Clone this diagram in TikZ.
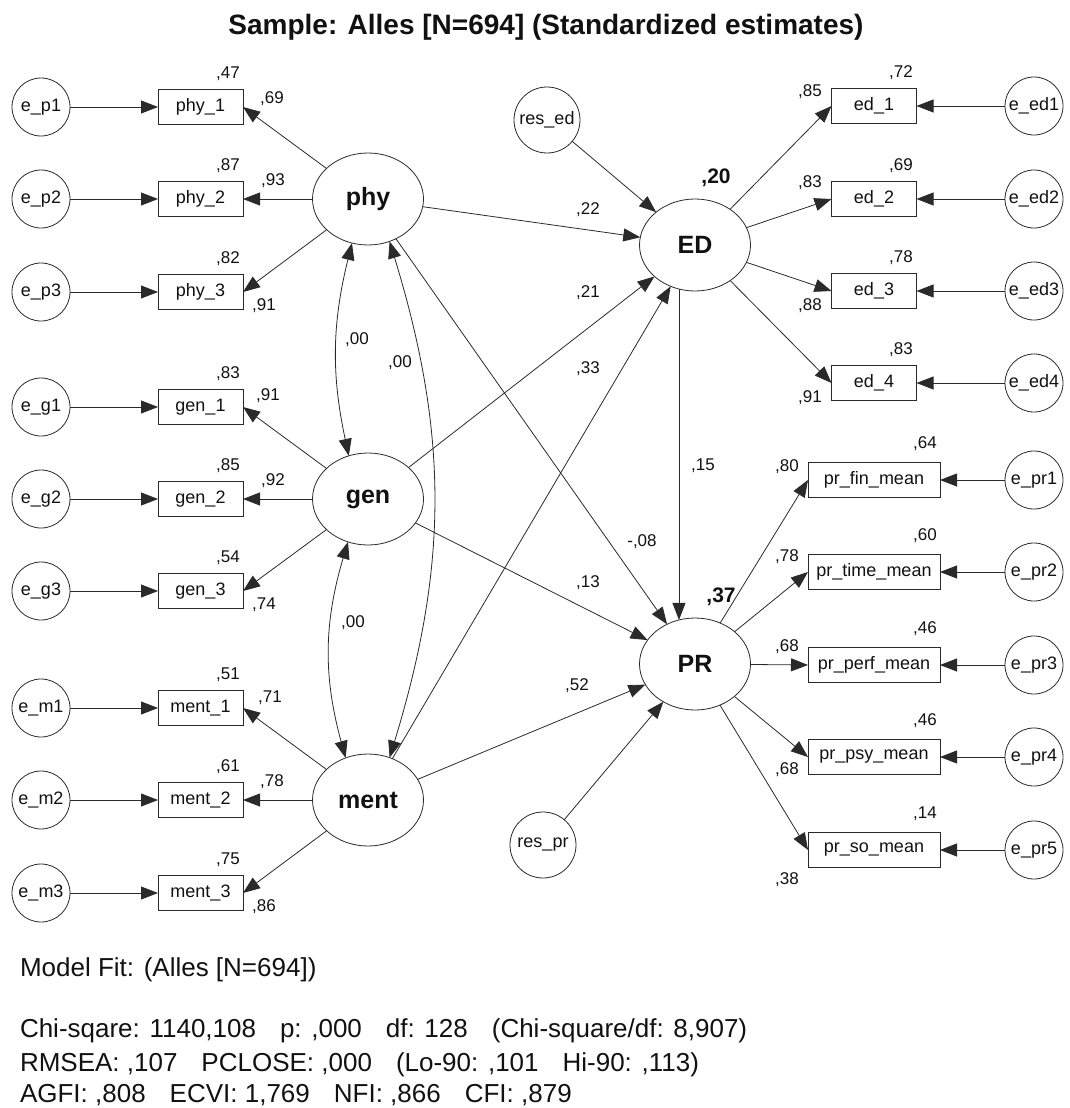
\documentclass[tikz,border=0pt]{standalone}
\usepackage{fontspec}
\setmainfont{Liberation Sans}
\usepackage{tikz}
\usetikzlibrary{arrows.meta,shapes.geometric}
\definecolor{SemInk}{HTML}{111111}
\definecolor{SemLine}{HTML}{2A2A2A}
\newcommand{\fitgap}{\hspace{24pt}}

\begin{document}
\begin{tikzpicture}[x=1pt,y=-1pt,>={Triangle[length=17pt,width=13pt]},
  every node/.style={inner sep=0pt,outer sep=0pt,text=SemInk},
  errc/.style={circle,draw=SemLine,line width=0.8pt,minimum size=58pt,font=\fontsize{18}{20}\selectfont},
  resc/.style={errc,minimum size=66pt},
  obsbox/.style={draw=SemLine,line width=0.8pt,minimum width=85pt,minimum height=35pt,font=\fontsize{18}{20}\selectfont},
  latent/.style={ellipse,draw=SemLine,line width=0.8pt,minimum width=111pt,minimum height=92pt,font=\bfseries\fontsize{25}{28}\selectfont},
  coef/.style={font=\fontsize{17}{19}\selectfont},
  rsq/.style={font=\bfseries\fontsize{21}{24}\selectfont},
  fitline/.style={anchor=base west,font=\fontsize{26}{30}\selectfont},
  semarrow/.style={->,line width=0.8pt,draw=SemLine},
  covarrow/.style={<->,line width=0.8pt,draw=SemLine}]
  \useasboundingbox (0,0) rectangle (1070,1108);

  \node[font=\bfseries\fontsize{28}{32}\selectfont,anchor=base] (title) at (546,35)
    {Sample: Alles [N=694] (Standardized estimates)};

  % latent variables
  \node[latent] (phy) at (368,199) {phy};
  \node[latent] (gen) at (368,499) {gen};
  \node[latent] (ment) at (368,800) {ment};
  \node[latent] (ED) at (695,245) {ED};
  \node[latent] (PR) at (695,664) {PR};
  \node[resc] (resed) at (547,120) {res\_ed};
  \node[resc] (respr) at (543,845) {res\_pr};
  \node[rsq] (rED) at (716,178) {,20};
  \node[rsq] (rPR) at (721,597) {,37};

  % indicators on the left
  \foreach \id/\txt/\y/\sq/\lv/\ld/\lx/\ly in {
    p1/{phy\_1}/107/{,47}/phy/{,69}/272/99,
    p2/{phy\_2}/199/{,87}/phy/{,93}/273/181,
    p3/{phy\_3}/292/{,82}/phy/{,91}/264/306,
    g1/{gen\_1}/407/{,83}/gen/{,91}/268/396,
    g2/{gen\_2}/499/{,85}/gen/{,92}/273/481,
    g3/{gen\_3}/591/{,54}/gen/{,74}/264/605,
    m1/{ment\_1}/708/{,51}/ment/{,71}/270/698,
    m2/{ment\_2}/800/{,61}/ment/{,78}/272/782,
    m3/{ment\_3}/893/{,75}/ment/{,86}/264/907}{
    \node[errc] (e\id) at (41,\y) {e\_\id};
    \node[obsbox] (\id) at (200.5,\y) {\txt};
    \node[coef] (s\id) at (228,\y-33) {\sq};
    \node[coef] (l\id) at (\lx,\ly) {\ld};
    \draw[semarrow] (e\id) -- (\id);
    \draw[semarrow] (\lv) -- (\id.east);
  }

  % indicators of ED
  \foreach \id/\txt/\y/\sq/\ld/\ly in {
    ed1/{ed\_1}/106/{,72}/{,85}/92,
    ed2/{ed\_2}/199/{,69}/{,83}/183,
    ed3/{ed\_3}/291/{,78}/{,88}/306,
    ed4/{ed\_4}/383/{,83}/{,91}/398}{
    \node[obsbox] (\id) at (874,\y) {\txt};
    \node[errc] (e\id) at (1034,\y) {e\_\id};
    \node[coef] (s\id) at (901,\y-33) {\sq};
    \node[coef] (l\id) at (810,\ly) {\ld};
    \draw[semarrow] (e\id) -- (\id);
    \draw[semarrow] (ED) -- (\id.west);
  }

  % indicators of PR
  \foreach \id/\txt/\y/\sq/\ld/\ly in {
    pr1/{pr\_fin\_mean}/480/{,64}/{,80}/467,
    pr2/{pr\_time\_mean}/572/{,60}/{,78}/557,
    pr3/{pr\_perf\_mean}/665/{,46}/{,68}/647,
    pr4/{pr\_psy\_mean}/757/{,46}/{,68}/770,
    pr5/{pr\_so\_mean}/850/{,14}/{,38}/880}{
    \node[obsbox,minimum width=132pt] (\id) at (874,\y) {\txt};
    \node[errc] (e\id) at (1034,\y) {e\_\id};
    \node[coef] (s\id) at (925,\y-36) {\sq};
    \node[coef] (l\id) at (787,\ly) {\ld};
    \draw[semarrow] (e\id) -- (\id);
    \draw[semarrow] (PR) -- (\id.west);
  }

  % structural paths
  \draw[semarrow] (resed) -- (ED);
  \draw[semarrow] (respr) -- (PR);
  \draw[semarrow] (phy) -- (ED);
  \draw[semarrow] (gen) -- (ED);
  \draw[semarrow] (ment) -- (ED);
  \draw[semarrow] (phy) -- (PR);
  \draw[semarrow] (gen) -- (PR);
  \draw[semarrow] (ment) -- (PR);
  \draw[semarrow] (ED.250) -- (PR.110);
  \node[coef] (bphyED) at (588,210) {,22};
  \node[coef] (bgenED) at (588,293) {,21};
  \node[coef] (bmentED) at (588,369) {,33};
  \node[coef] (bEDPR) at (703,466) {,15};
  \node[coef] (bphyPR) at (642,542) {-,08};
  \node[coef] (bgenPR) at (588,583) {,13};
  \node[coef] (bmentPR) at (577,686) {,52};

  % covariances
  \draw[covarrow] (phy.250) to[bend right=13] (gen.114);
  \draw[covarrow] (gen.245) to[bend right=16] (ment.118);
  \draw[covarrow] (phy.297) to[bend left=17] (ment.63);
  \node[coef] (cpg) at (357,340) {,00};
  \node[coef] (cpm) at (400,363) {,00};
  \node[coef] (cgm) at (353,623) {,00};

  % model fit
  \node[fitline] (fittitle) at (20,976) {Model Fit: (Alles [N=694])};
  \node[fitline] (fitchi) at (20,1037)
    {Chi-sqare: 1140,108\fitgap p: ,000\fitgap df: 128\fitgap (Chi-square/df: 8,907)};
  \node[fitline] (fitrmsea) at (20,1071)
    {RMSEA: ,107\fitgap PCLOSE: ,000\fitgap (Lo-90: ,101\fitgap Hi-90: ,113)};
  \node[fitline] (fitagfi) at (20,1102)
    {AGFI: ,808\fitgap ECVI: 1,769\fitgap NFI: ,866\fitgap CFI: ,879};
\end{tikzpicture}
\end{document}
